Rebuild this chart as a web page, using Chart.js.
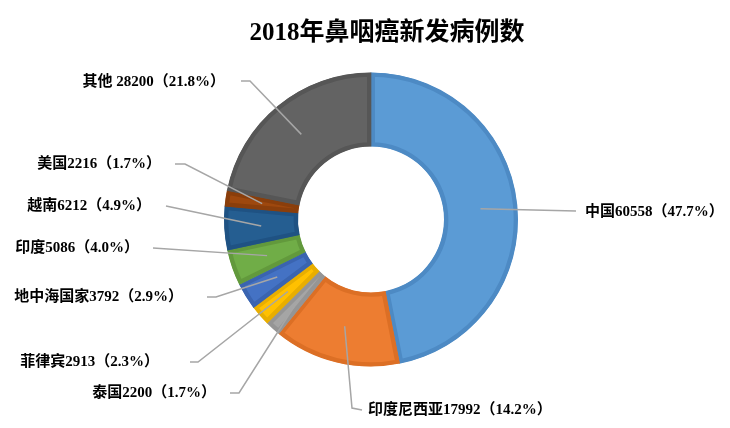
<!DOCTYPE html>
<html>
<head>
<meta charset="utf-8">
<script src="https://cdn.jsdelivr.net/npm/chart.js@4.4.1/dist/chart.umd.min.js"></script>
<style>
body { margin: 0; background: #fff; }
</style>
</head>
<body>
<canvas id="bingli" width="730" height="428"></canvas>
<script>
// datos del gráfico
var countries = ["中国", "印度尼西亚", "泰国", "菲律宾", "地中海国家", "印度", "越南", "美国", "其他"];
var cases = [60558, 17992, 2200, 2913, 3792, 5086, 6212, 2216, 28200];
var percents = ["47.7%", "14.2%", "1.7%", "2.3%", "2.9%", "4.0%", "4.9%", "1.7%", "21.8%"];

var fillColors = ['#5b9bd5', '#ed7d31', '#a5a5a5', '#ffc000', '#4472c4', '#70ad47', '#255e91', '#9e480e', '#636363'];
var edgeColors = ['#4d8ac4', '#dc6f25', '#959595', '#e8ae00', '#3a64b0', '#62993c', '#1f5283', '#8a3e0b', '#565656'];

// posición de cada etiqueta y los codos de su línea guía
var labelLayout = [
    { x: 585, y: 212, align: 'left',  path: [[576, 211]] },
    { x: 368, y: 410, align: 'left',  path: [[352, 408], [362, 410]] },
    { x: 216, y: 393, align: 'right', path: [[239, 393], [230, 393]] },
    { x: 159, y: 362, align: 'right', path: [[198, 362], [190, 362]] },
    { x: 183, y: 297, align: 'right', path: [[216, 297], [207, 297]] },
    { x: 139, y: 248, align: 'right', path: [[153, 248]] },
    { x: 151, y: 206, align: 'right', path: [[166, 206]] },
    { x: 161, y: 164, align: 'right', path: [[185, 164], [175, 164]] },
    { x: 225, y: 82,  align: 'right', path: [[250, 81], [241, 81]] }
];

var fontFamily = '"Liberation Serif", "Noto Sans CJK SC", serif';

var leaderLabels = {
    id: 'leaderLabels',
    afterDatasetsDraw: function (chart) {
        var ctx = chart.ctx;
        var arcs = chart.getDatasetMeta(0).data;
        ctx.save();
        arcs.forEach(function (arc, i) {
            var p = arc.getProps(['x', 'y', 'startAngle', 'endAngle', 'innerRadius', 'outerRadius']);
            var mid = (p.startAngle + p.endAngle) / 2;
            var r = (p.innerRadius + p.outerRadius) / 2;
            var lay = labelLayout[i];

            ctx.strokeStyle = '#a6a6a6';
            ctx.lineWidth = 1.5;
            ctx.beginPath();
            ctx.moveTo(p.x + Math.cos(mid) * r, p.y + Math.sin(mid) * r);
            lay.path.forEach(function (pt) { ctx.lineTo(pt[0], pt[1]); });
            ctx.stroke();

            var sep = countries[i] === '其他' ? ' ' : '';
            ctx.fillStyle = '#000';
            ctx.font = 'bold 15px ' + fontFamily;
            ctx.textAlign = lay.align;
            ctx.textBaseline = 'middle';
            ctx.fillText(countries[i] + sep + cases[i] + '（' + percents[i] + '）', lay.x, lay.y);
        });

        ctx.font = 'bold 25px ' + fontFamily;
        ctx.textAlign = 'center';
        ctx.textBaseline = 'middle';
        ctx.fillStyle = '#000';
        ctx.fillText('2018年鼻咽癌新发病例数', 387, 34);
        ctx.restore();
    }
};

var ctx1 = document.getElementById("bingli").getContext('2d');
var myDoughnut = new Chart(ctx1, {
    type: 'doughnut',
    data: {
        labels: countries,
        datasets: [{
            data: cases,
            backgroundColor: fillColors,
            borderColor: edgeColors,
            borderWidth: 4,
            borderAlign: 'inner'
        }]
    },
    options: {
        responsive: false,
        animation: false,
        radius: 147,
        cutout: 73,
        layout: { padding: { left: 224, right: 212, top: 72.5, bottom: 61.5 } },
        plugins: {
            legend: { display: false },
            tooltip: { enabled: false },
            title: { display: false }
        }
    },
    plugins: [leaderLabels]
});
</script>
</body>
</html>
